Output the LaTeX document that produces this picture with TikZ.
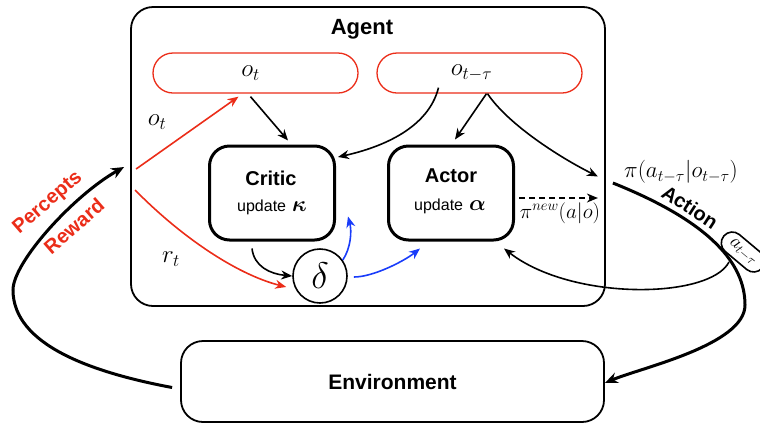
\RequirePackage{fix-cm}
\documentclass[tikz,border=0pt]{standalone}
\usepackage{amsmath}
\usepackage{fontspec}
\setsansfont{Liberation Sans}
\usetikzlibrary{arrows.meta,calc}
\definecolor{myred}{RGB}{235,45,25}
\definecolor{myblue}{RGB}{25,60,250}
\begin{document}
\begin{tikzpicture}[x=1pt,y=-1pt,
  sbf/.style={font=\sffamily\bfseries\fontsize{#1}{#1}\selectfont},
  sreg/.style={font=\sffamily\fontsize{#1}{#1}\selectfont},
  mth/.style={font=\fontsize{#1}{#1}\selectfont, inner sep=1pt},
  agentbox/.style={draw, line width=1.8pt, rounded corners=22pt, minimum width=474pt, minimum height=299pt},
  pill/.style={draw=myred, line width=1.3pt, rounded corners=20pt, minimum width=205pt, minimum height=40pt, font=\fontsize{25}{25}\selectfont},
  thickbox/.style={draw, line width=3pt, rounded corners=20pt, minimum width=125pt, minimum height=94pt},
  envbox/.style={draw, line width=1.8pt, rounded corners=22pt, minimum width=423pt, minimum height=81pt, sbf=21},
  arr/.style={-{Stealth[length=11pt,width=9pt]}, line width=1.6pt},
  bigarr/.style={-{Stealth[length=13pt,width=11pt]}, line width=3pt}
]
\useasboundingbox (0,0) rectangle (760,424);

% boxes
\node[agentbox] (agent) at (368,156.5) {};
\node[sbf=22] (agenttitle) at (362,29) {Agent};
\node[pill] (pot) at (255.5,73) {\hspace*{-10pt}$o_t$};
\node[pill] (potau) at (479.5,73) {\hspace*{-16pt}$o_{t-\tau}$};
\node[thickbox] (critic) at (272,193) {};
\node[sbf=20] (criticname) at (271,178) {Critic};
\node[sreg=16] (criticupd) at (272,207) {update\hspace{6pt}{\fontsize{22}{22}\selectfont$\boldsymbol{\kappa}$}};
\node[thickbox] (actor) at (451,193) {};
\node[sbf=20] (actorname) at (451,176) {Actor};
\node[sreg=16] (actorupd) at (450,206) {update\hspace{6pt}{\fontsize{22}{22}\selectfont$\boldsymbol{\alpha}$}};
\node[circle, draw, line width=1.6pt, minimum size=54pt, inner sep=0pt, font=\fontsize{37}{37}\selectfont] (delta) at (320,276) {$\delta$};
\node[envbox] (env) at (392.5,381.5) {Environment};

% labels
\node[mth=25] (lot) at (157,122) {$o_t$};
\node[mth=25] (lrt) at (171,259) {$r_t$};
\node[mth=23] (lpi) at (681,172) {$\pi(a_{t-\tau}|o_{t-\tau})$};
\node[mth=21] (lpinew) at (560,213) {$\pi^{new}(a|o)$};
\node[sbf=20, rotate=-33] (laction) at (690,207) {Action};
\node[sbf=20, text=myred, rotate=41] (lperc) at (48,203) {Percepts};
\node[sbf=20, text=myred, rotate=41] (lrew) at (74,226) {Reward};

% coordinates on free ends
\coordinate (rin1) at ($(agent.west)+(6,12.5)$);
\coordinate (rin2) at ($(agent.west)+(5,33.5)$);
\coordinate (lp) at (13,290);
\coordinate (rp) at (745,305);
\coordinate (branch) at (729,262);

% red inputs
\draw[arr, myred] (rin1) -- ($(pot.south)+(-17,3)$);
\draw[arr, myred] (rin2) .. controls +(44,45) and +(-51,-13) .. ($(delta.west)+(-6,11)$);

% black inner arrows
\draw[arr] ($(pot.south)+(-5,3)$) -- ($(critic.north)+(16,-4)$);
\draw[arr] ($(potau.south)+(-41,-6)$) .. controls +(-10,40) and +(45,-10) .. ($(critic.east)+(2,-36)$);
\draw[arr] ($(potau.south)+(7,0)$) -- ($(actor.north)+(4,-5)$);
\draw[arr] ($(potau.south)+(8,0)$) .. controls +(20,30) and +(-40,-20) .. ($(agent.east)+(-8,20)$);
\draw[arr, dashed, dash pattern=on 6pt off 4pt] ($(actor.east)+(4,5)$) -- ($(agent.east)+(-8,41.5)$);
\draw[arr] ($(critic.south)+(-20,7)$) .. controls +(2,18) and +(-22,-2) .. (delta.west);

% blue arrows
\draw[arr, myblue] (delta.35) .. controls +(8,-12) and +(4,15) .. ($(critic.south east)+(12,-25)$);
\draw[arr, myblue] ($(delta.east)+(6,1)$) .. controls +(20,0) and +(-15,12) .. ($(actor.south)+(-31,7)$);

% action loop
\draw[bigarr] ($(agent.east)+(7,26.5)$) .. controls +(100,40) and +(0,-40) .. (rp)
  .. controls +(0,40) and +(35,-15) .. ($(env.east)+(0,1.5)$);
\node[draw, line width=1.6pt, rounded corners=11pt, minimum width=50pt, minimum height=22pt, inner sep=1pt, rotate=-40, font=\fontsize{19}{19}\selectfont] (atau) at (743,252) {$a_{t-\tau}$};
\draw[arr] (branch) .. controls +(-19,37) and +(68,53) .. ($(actor.south east)+(-11,7)$);

% percept loop
\draw[bigarr] ($(env.west)+(-8,6)$) .. controls +(-80,-15) and +(0,55) .. (lp)
  .. controls +(0,-28) and +(-50,28) .. ($(agent.west)+(-6,10.5)$);
\end{tikzpicture}
\end{document}
